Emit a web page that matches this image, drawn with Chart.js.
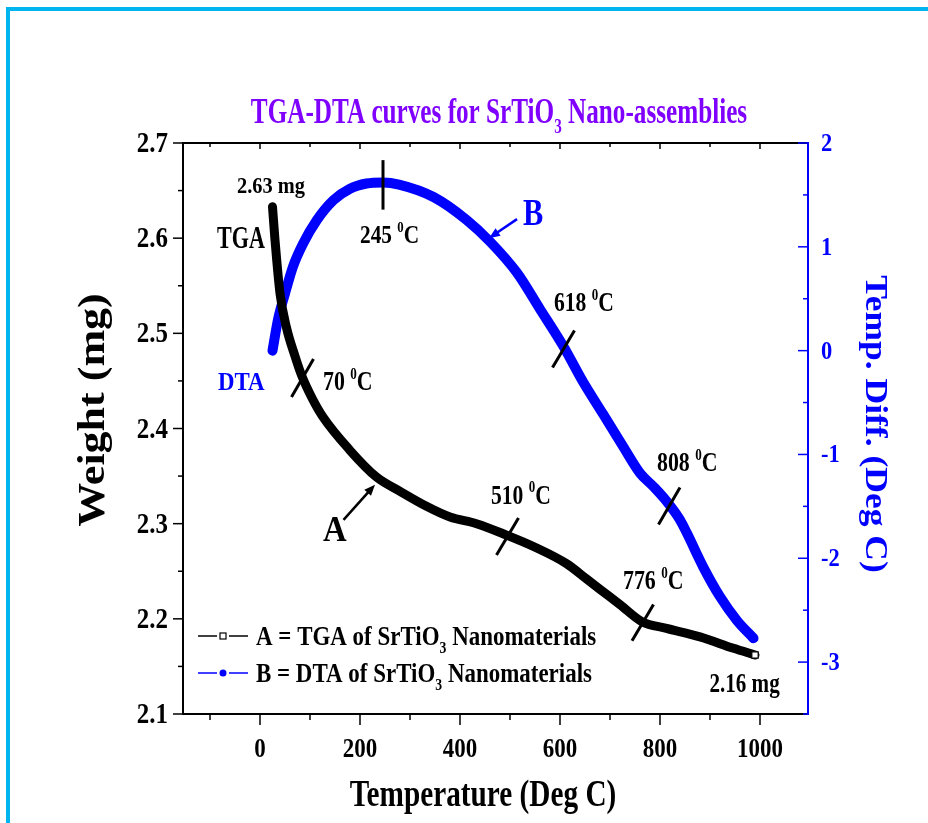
<!DOCTYPE html>
<html>
<head>
<meta charset="utf-8">
<title>TGA-DTA curves for SrTiO3 Nano-assemblies</title>
<script src="https://cdn.jsdelivr.net/npm/chart.js@4.4.1/dist/chart.umd.min.js"></script>
<style>
  html, body { margin: 0; padding: 0; background: #fff; }
  #wrap { position: relative; width: 928px; height: 823px; overflow: hidden; }
  #frame {
    position: absolute; left: 6px; top: 7px; right: -10px; bottom: -10px;
    border-top: 4px solid #00b4ef; border-left: 4px solid #00b4ef;
    pointer-events: none;
  }
</style>
</head>
<body>
<div id="wrap">
  <canvas id="tgaChart" width="928" height="823"></canvas>
  <div id="frame"></div>
</div>
<script>
// values
const tgaTemp = [25, 30, 40, 53, 70, 83, 104, 126, 180, 233, 280, 334, 380, 433, 493, 547, 613, 653, 680, 720, 764, 813, 880, 947, 990];
const tgaWeight = [2.633, 2.598, 2.542, 2.506, 2.476, 2.456, 2.432, 2.412, 2.377, 2.349, 2.334, 2.318, 2.307, 2.300, 2.288, 2.276, 2.258, 2.242, 2.231, 2.215, 2.197, 2.190, 2.181, 2.169, 2.162];

const dtaTemp = [25, 36, 50, 66, 86, 114, 147, 180, 213, 246, 278, 347, 413, 460, 514, 560, 607, 646, 686, 727, 760, 787, 813, 840, 854, 886, 920, 954, 987];
const dtaDiff = [0.0, 0.30, 0.55, 0.81, 1.03, 1.26, 1.45, 1.56, 1.61, 1.62, 1.60, 1.48, 1.26, 1.05, 0.75, 0.40, 0.04, -0.30, -0.61, -0.93, -1.18, -1.31, -1.45, -1.63, -1.76, -2.08, -2.37, -2.60, -2.77];

const tempTicks = [0, 200, 400, 600, 800, 1000];
const weightTicks = [2.1, 2.2, 2.3, 2.4, 2.5, 2.6, 2.7];
const diffTicks = [-3, -2, -1, 0, 1, 2];

const BLUE = '#0000ff';
const FONT = '"Liberation Serif", "Times New Roman", serif';
const deg = { t: '0', sup: true };

// short marks across the curves, in (temperature, weight) units
const slashMarks = [
  [63, 2.433, 107, 2.473],
  [246, 2.682, 246, 2.630],
  [585, 2.464, 629, 2.503],
  [473, 2.267, 517, 2.306],
  [744, 2.177, 787, 2.215],
  [797, 2.299, 840, 2.338]
];

// labels written in the plot, anchored in (temperature, weight) units
const notes = [
  { parts: ['2.63 mg'], at: [-46, 2.647], size: 24, k: 0.85 },
  { parts: ['TGA'], at: [-86, 2.590], size: 32, k: 0.69 },
  { parts: ['DTA'], at: [-84, 2.440], size: 26, k: 0.88, color: BLUE },
  { parts: ['70 ', deg, 'C'], at: [126, 2.440], size: 28, k: 0.78 },
  { parts: ['245 ', deg, 'C'], at: [200, 2.595], size: 26, k: 0.82 },
  { parts: ['618 ', deg, 'C'], at: [588, 2.523], size: 27, k: 0.8 },
  { parts: ['808 ', deg, 'C'], at: [794, 2.355], size: 28, k: 0.78 },
  { parts: ['510 ', deg, 'C'], at: [462, 2.321], size: 27, k: 0.8 },
  { parts: ['776 ', deg, 'C'], at: [726, 2.231], size: 28, k: 0.78 },
  { parts: ['2.16 mg'], at: [899, 2.123], size: 27, k: 0.78 },
  { parts: ['A'], at: [126, 2.282], size: 36, k: 0.91 },
  { parts: ['B'], at: [526, 2.614], size: 38, k: 0.8, color: BLUE }
];

// arrows pointing at the curves: from (T, W) to (T, W)
const arrows = [
  { from: [167, 2.304], to: [230, 2.341], color: '#000' },
  { from: [514, 2.620], to: [458, 2.600], color: BLUE }
];

// draws text made of normal / sub / sup pieces, squeezed by kx, ky
function richText(ctx, parts, x, y, o) {
  const items = parts.map(p => typeof p === 'string' ? { t: p } : Object.assign({}, p));
  let total = 0;
  items.forEach(p => {
    p.fs = (p.sub || p.sup) ? o.size * 0.6 : o.size;
    ctx.font = 'bold ' + p.fs + 'px ' + FONT;
    p.w = ctx.measureText(p.t).width;
    total += p.w;
  });
  ctx.save();
  ctx.translate(x, y);
  if (o.rotate) ctx.rotate(o.rotate);
  ctx.scale(o.kx || 1, o.ky || 1);
  ctx.fillStyle = o.color || '#000';
  ctx.textAlign = 'left';
  ctx.textBaseline = 'alphabetic';
  let cx = o.align === 'center' ? -total / 2 : (o.align === 'right' ? -total : 0);
  items.forEach(p => {
    ctx.font = 'bold ' + p.fs + 'px ' + FONT;
    const dy = p.sub ? o.size * 0.28 : (p.sup ? -o.size * 0.42 : 0);
    ctx.fillText(p.t, cx, dy);
    cx += p.w;
  });
  ctx.restore();
}

function seg(ctx, x1, y1, x2, y2, color, w) {
  ctx.save();
  ctx.strokeStyle = color;
  ctx.lineWidth = w;
  ctx.beginPath();
  ctx.moveTo(x1, y1);
  ctx.lineTo(x2, y2);
  ctx.stroke();
  ctx.restore();
}

const decorations = {
  id: 'decorations',
  afterDraw(chart) {
    const ctx = chart.ctx;
    const { left, right, top, bottom } = chart.chartArea;
    const xs = chart.scales.x, ys = chart.scales.y, yr = chart.scales.y1;

    // frame
    seg(ctx, left, top, right, top, '#000', 2);
    seg(ctx, left, bottom, right, bottom, '#000', 2);
    seg(ctx, left, top - 1, left, bottom + 1, '#000', 2);
    seg(ctx, right, top - 1, right, bottom + 1, BLUE, 2);

    // temperature ticks (bottom outward, top inward)
    for (let t = -100; t <= 1000; t += 100) {
      const px = xs.getPixelForValue(t);
      const major = t % 200 === 0;
      seg(ctx, px, bottom, px, bottom + (major ? 11 : 6), '#000', 1.5);
      seg(ctx, px, top, px, top + (major ? 6 : 4), '#000', 1.5);
    }
    tempTicks.forEach(t => {
      richText(ctx, [String(t)], xs.getPixelForValue(t), 757, { size: 28, kx: 0.82, align: 'center' });
    });

    // weight ticks (left, outward)
    for (let i = 0; i <= 12; i++) {
      const v = 2.1 + i * 0.05;
      const py = ys.getPixelForValue(v);
      seg(ctx, left - (i % 2 === 0 ? 10 : 5), py, left, py, '#000', 1.5);
    }
    weightTicks.forEach(v => {
      richText(ctx, [v.toFixed(1)], left - 15, ys.getPixelForValue(v) + 9, { size: 29, kx: 0.86, align: 'right' });
    });

    // temp. diff. ticks (right, inward)
    for (let i = 0; i <= 11; i++) {
      const v = -3.5 + i * 0.5;
      const py = yr.getPixelForValue(v);
      seg(ctx, right - (i % 2 === 1 ? 10 : 5), py, right, py, BLUE, 1.5);
    }
    diffTicks.forEach(v => {
      richText(ctx, [String(v)], right + 13, yr.getPixelForValue(v) + 8, { size: 25, kx: 0.9, color: BLUE });
    });

    // axis titles and chart title
    richText(ctx, ['TGA-DTA curves for SrTiO', { t: '3', sub: true }, ' Nano-assemblies'], 499, 123,
      { size: 36.5, kx: 0.69, color: '#8000ff', align: 'center' });
    richText(ctx, ['Temperature (Deg C)'], 483, 806, { size: 38, kx: 0.77, align: 'center' });
    richText(ctx, ['Weight (mg)'], 104, 410, { size: 44, ky: 0.87, rotate: -Math.PI / 2, align: 'center' });
    richText(ctx, ['Temp. Diff. (Deg C)'], 866, 424, { size: 35.5, ky: 0.9, rotate: Math.PI / 2, align: 'center', color: BLUE });

    // slash marks
    slashMarks.forEach(m => {
      seg(ctx, xs.getPixelForValue(m[0]), ys.getPixelForValue(m[1]),
        xs.getPixelForValue(m[2]), ys.getPixelForValue(m[3]), '#000', 3);
    });

    // arrows
    arrows.forEach(a => {
      const x1 = xs.getPixelForValue(a.from[0]), y1 = ys.getPixelForValue(a.from[1]);
      const x2 = xs.getPixelForValue(a.to[0]), y2 = ys.getPixelForValue(a.to[1]);
      const ang = Math.atan2(y2 - y1, x2 - x1);
      seg(ctx, x1, y1, x2 - 6 * Math.cos(ang), y2 - 6 * Math.sin(ang), a.color, 2.5);
      ctx.save();
      ctx.fillStyle = a.color;
      ctx.translate(x2, y2);
      ctx.rotate(ang);
      ctx.beginPath();
      ctx.moveTo(0, 0);
      ctx.lineTo(-11, -4.5);
      ctx.lineTo(-11, 4.5);
      ctx.closePath();
      ctx.fill();
      ctx.restore();
    });

    // text notes
    notes.forEach(n => {
      richText(ctx, n.parts, xs.getPixelForValue(n.at[0]), ys.getPixelForValue(n.at[1]),
        { size: n.size, kx: n.k, color: n.color || '#000' });
    });

    // legend
    const sub3 = { t: '3', sub: true };
    seg(ctx, 198, 636, 217, 636, '#000', 1.5);
    seg(ctx, 229, 636, 248, 636, '#000', 1.5);
    ctx.save();
    ctx.fillStyle = '#fff';
    ctx.strokeStyle = '#000';
    ctx.lineWidth = 1.2;
    ctx.fillRect(220, 633, 6, 6);
    ctx.strokeRect(220, 633, 6, 6);
    ctx.restore();
    richText(ctx, ['A = TGA of SrTiO', sub3, ' Nanomaterials'], 256, 645, { size: 27, kx: 0.85 });

    seg(ctx, 198, 673, 217, 673, BLUE, 1.5);
    seg(ctx, 229, 673, 248, 673, BLUE, 1.5);
    ctx.save();
    ctx.fillStyle = BLUE;
    ctx.beginPath();
    ctx.arc(223, 673, 3.5, 0, Math.PI * 2);
    ctx.fill();
    ctx.restore();
    richText(ctx, ['B = DTA of SrTiO', sub3, ' Nanomaterials'], 256, 682, { size: 27, kx: 0.85 });
  }
};

const ctx = document.getElementById('tgaChart').getContext('2d');
const chart = new Chart(ctx, {
  type: 'line',
  data: {
    datasets: [{
      label: 'A = TGA of SrTiO3 Nanomaterials',
      data: tgaTemp.map((t, i) => ({ x: t, y: tgaWeight[i] })),
      yAxisID: 'y',
      borderColor: '#000',
      borderWidth: 9,
      borderCapStyle: 'round',
      borderJoinStyle: 'round',
      cubicInterpolationMode: 'monotone',
      pointStyle: 'rect',
      pointRadius: c => c.dataIndex === tgaTemp.length - 1 ? 4.5 : 0,
      pointBackgroundColor: '#fff',
      pointBorderColor: '#000',
      pointBorderWidth: 1.2,
      fill: false,
      clip: false
    }, {
      label: 'B = DTA of SrTiO3 Nanomaterials',
      data: dtaTemp.map((t, i) => ({ x: t, y: dtaDiff[i] })),
      yAxisID: 'y1',
      borderColor: BLUE,
      borderWidth: 10,
      borderCapStyle: 'round',
      borderJoinStyle: 'round',
      cubicInterpolationMode: 'monotone',
      pointRadius: 0,
      fill: false,
      clip: false
    }]
  },
  options: {
    responsive: false,
    animation: false,
    devicePixelRatio: 1,
    layout: { padding: { left: 183, right: 120, top: 143, bottom: 109 } },
    plugins: { legend: { display: false }, tooltip: { enabled: false } },
    scales: {
      x: { type: 'linear', min: -154, max: 1096, display: false },
      y: { type: 'linear', min: 2.1, max: 2.7, display: false },
      y1: { type: 'linear', position: 'right', min: -3.5, max: 2, display: false }
    }
  },
  plugins: [decorations]
});
</script>
</body>
</html>
